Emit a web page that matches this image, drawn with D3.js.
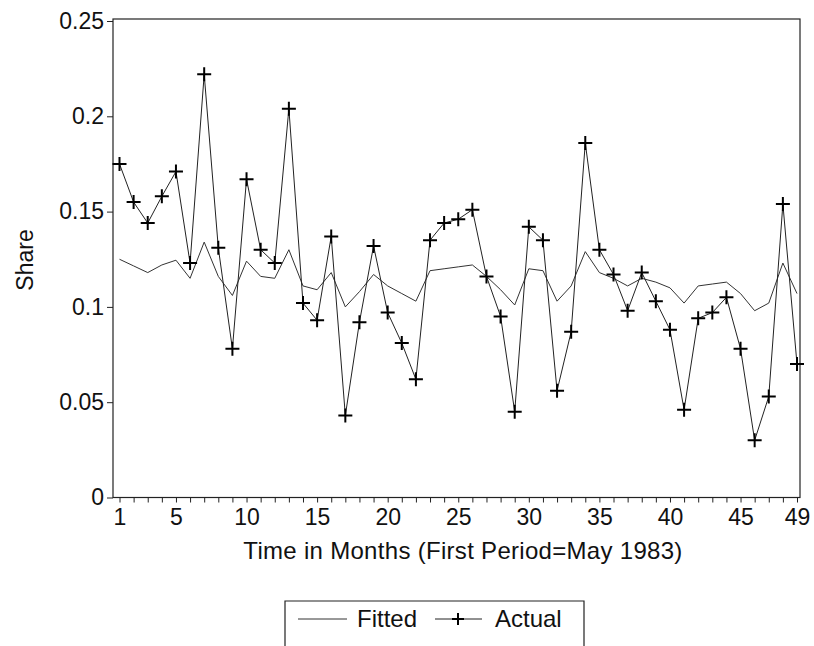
<!DOCTYPE html>
<html>
<head>
<meta charset="utf-8">
<script src="https://cdn.jsdelivr.net/npm/d3@7"></script>
<style>
  html, body { margin: 0; padding: 0; background: #fff; }
  svg { display: block; font-family: "Liberation Sans", Arial, sans-serif; }
</style>
</head>
<body>
<svg id="chart" width="814" height="646"></svg>
<script>
const months = d3.range(1, 50);
const actual = [0.175, 0.155, 0.144, 0.158, 0.171, 0.123, 0.222, 0.131, 0.078, 0.167,
  0.130, 0.123, 0.204, 0.102, 0.093, 0.137, 0.043, 0.092, 0.132, 0.097,
  0.081, 0.062, 0.135, 0.144, 0.146, 0.151, 0.116, 0.095, 0.045, 0.142,
  0.135, 0.056, 0.087, 0.186, 0.130, 0.117, 0.098, 0.118, 0.103, 0.088,
  0.046, 0.094, 0.097, 0.105, 0.078, 0.030, 0.053, 0.154, 0.070];
const fitted = [0.125, 0.1215, 0.118, 0.122, 0.1245, 0.115, 0.134, 0.116, 0.106, 0.124,
  0.116, 0.115, 0.130, 0.111, 0.109, 0.118, 0.100, 0.108, 0.117, 0.111,
  0.107, 0.103, 0.119, 0.120, 0.121, 0.122, 0.116, 0.109, 0.101, 0.120,
  0.119, 0.103, 0.111, 0.129, 0.118, 0.115, 0.111, 0.115, 0.113, 0.110,
  0.102, 0.111, 0.112, 0.113, 0.107, 0.098, 0.102, 0.123, 0.107];
const xTickLabels = [1, 5, 10, 15, 20, 25, 30, 35, 40, 45, 49];
const yTicks = [0, 0.05, 0.1, 0.15, 0.2, 0.25];
const yTickLabels = ["0", "0.05", "0.1", "0.15", "0.2", "0.25"];
const seriesNames = ["Fitted", "Actual"];

const svg = d3.select("#chart");
const frame = { left: 113, right: 800, top: 19, bottom: 497.5 };
const FONT = "'Liberation Sans', Arial, sans-serif";

const x = d3.scaleLinear().domain([1, 49]).range([119.5, 797]);
const y = d3.scaleLinear().domain([0, 0.25]).range([497.5, 21]);

// frame
svg.append("rect")
  .attr("x", frame.left).attr("y", frame.top)
  .attr("width", frame.right - frame.left).attr("height", frame.bottom - frame.top)
  .attr("fill", "none").attr("stroke", "#222").attr("stroke-width", 1.2);

// x axis
const xAxis = d3.axisBottom(x)
  .tickValues(months)
  .tickSize(5)
  .tickPadding(6)
  .tickFormat(d => xTickLabels.includes(d) ? String(d) : "");
const gx = svg.append("g").attr("transform", `translate(0,${frame.bottom})`).call(xAxis);
gx.select(".domain").remove();
gx.selectAll(".tick line").attr("stroke", "#222").attr("stroke-width", 1);
gx.selectAll(".tick text").attr("font-size", 23).attr("fill", "#111")
  .attr("font-family", FONT).attr("dy", "0.71em");

// y axis
const yAxis = d3.axisLeft(y)
  .tickValues(yTicks)
  .tickSize(6)
  .tickPadding(3)
  .tickFormat((d, i) => yTickLabels[i]);
const gy = svg.append("g").attr("transform", `translate(${frame.left},0)`).call(yAxis);
gy.select(".domain").remove();
gy.selectAll(".tick line").attr("stroke", "#222").attr("stroke-width", 1);
gy.selectAll(".tick text").attr("font-size", 23).attr("fill", "#111")
  .attr("font-family", FONT);

// axis titles
svg.append("text")
  .attr("x", 463).attr("y", 559)
  .attr("text-anchor", "middle")
  .attr("font-size", 24).attr("fill", "#111")
  .attr("letter-spacing", 0.3)
  .text("Time in Months (First Period=May 1983)");
svg.append("text")
  .attr("transform", "translate(33,260) rotate(-90)")
  .attr("text-anchor", "middle")
  .attr("font-size", 23).attr("fill", "#111")
  .text("Share");

// lines
const line = d3.line().x((d, i) => x(months[i])).y(d => y(d));
svg.append("path")
  .datum(fitted)
  .attr("d", line)
  .attr("fill", "none").attr("stroke", "#333").attr("stroke-width", 1);

svg.append("path")
  .datum(actual)
  .attr("d", line)
  .attr("fill", "none").attr("stroke", "#222").attr("stroke-width", 1);

// plus markers
const ms = 7;
svg.append("g").selectAll("path.mk")
  .data(actual)
  .join("path")
  .attr("class", "mk")
  .attr("d", (d, i) => `M${x(months[i]) - ms},${y(d)}H${x(months[i]) + ms}M${x(months[i])},${y(d) - ms}V${y(d) + ms}`)
  .attr("stroke", "#000").attr("stroke-width", 2).attr("fill", "none");

// legend
const lg = svg.append("g");
lg.append("path")
  .attr("d", "M285,646V601H584V646")
  .attr("fill", "none").attr("stroke", "#222").attr("stroke-width", 1.2);
lg.append("line").attr("x1", 298).attr("x2", 347).attr("y1", 619).attr("y2", 619)
  .attr("stroke", "#333").attr("stroke-width", 1);
lg.append("text").attr("x", 357).attr("y", 627).attr("font-size", 24).attr("fill", "#111")
  .text(seriesNames[0]);
lg.append("line").attr("x1", 435).attr("x2", 482).attr("y1", 619).attr("y2", 619)
  .attr("stroke", "#222").attr("stroke-width", 1);
lg.append("path").attr("d", "M452,619H464M458,613V625")
  .attr("stroke", "#000").attr("stroke-width", 2);
lg.append("text").attr("x", 495).attr("y", 627).attr("font-size", 24).attr("fill", "#111")
  .text(seriesNames[1]);
</script>
</body>
</html>
